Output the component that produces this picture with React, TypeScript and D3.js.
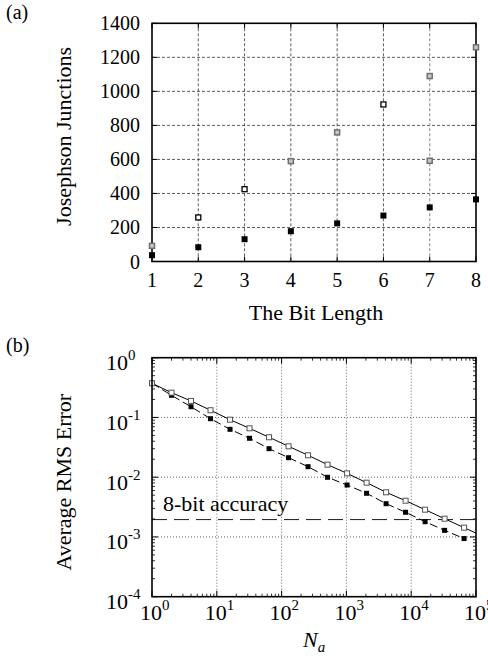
import React from 'react';
import * as d3 from 'd3';

// ---------- Data: panel (a) ----------
const bitLengths = [1, 2, 3, 4, 5, 6, 7, 8];
const jjFilled = [37, 84, 131, 178, 224, 270, 318, 365];
const jjOpenBits = [2, 3, 6];
const jjOpen = [259, 425, 923];
const jjGrayBits = [1, 4, 5, 7, 7, 8];
const jjGray = [92, 590, 759, 1090, 592, 1259];
const topYTicks = [0, 200, 400, 600, 800, 1000, 1200, 1400];

// ---------- Data: panel (b) ----------
const naValues = [1, 2, 4, 8, 16, 32, 64, 128, 256, 512, 1024, 2048, 4096, 8192, 16384, 32768, 65536];
const rmsOpen = [0.373, 0.26, 0.189, 0.132, 0.0917, 0.0658, 0.0466, 0.0329, 0.0233, 0.0162, 0.0116, 0.0081, 0.00559, 0.00404, 0.00286, 0.00202, 0.00143];
const rmsFilled = [0.373, 0.235, 0.151, 0.0953, 0.0633, 0.0448, 0.03, 0.0212, 0.015, 0.00996, 0.0074, 0.00538, 0.0036, 0.00259, 0.0018, 0.00129, 0.00094];
const eightBitLevel = 1 / 512;
const xExps = [0, 1, 2, 3, 4, 5];
const yExps = [-4, -3, -2, -1, 0];

const FONT = '"Liberation Serif", "Times New Roman", serif';

export default function App() {
  // panel (a) geometry
  const aL = 152, aR = 476, aT = 23.3, aB = 261.5;
  const xa = d3.scaleLinear().domain([1, 8]).range([aL, aR]);
  const ya = d3.scaleLinear().domain([0, 1400]).range([aB, aT]);

  // panel (b) geometry
  const bL = 152, bR = 476, bT = 357.7, bB = 596.7;
  const xb = d3.scaleLog().domain([1, 1e5]).range([bL, bR]);
  const yb = d3.scaleLog().domain([1e-4, 1]).range([bB, bT]);

  const last = naValues.length - 1;
  const slopeOpen = Math.log(rmsOpen[last] / rmsOpen[last - 1]) / Math.log(naValues[last] / naValues[last - 1]);
  const openExt = rmsOpen[last] * Math.pow(1e5 / naValues[last], slopeOpen);
  const solidPts: [number, number][] = naValues.map((n, i) => [n, rmsOpen[i]] as [number, number]).concat([[1e5, openExt]]);
  const dashedPts: [number, number][] = naValues.map((n, i) => [n, rmsFilled[i]] as [number, number]);
  const lineB = d3.line<[number, number]>().x(d => xb(d[0])).y(d => yb(d[1]));

  const minorX: number[] = [];
  for (let e = 0; e < 5; e++) for (let k = 2; k <= 9; k++) minorX.push(k * Math.pow(10, e));
  const minorY: number[] = [];
  for (let e = -4; e < 0; e++) for (let k = 2; k <= 9; k++) minorY.push(k * Math.pow(10, e));

  const ms = 6;
  const msb = 5;

  return (
    <svg width={488} height={663} style={{ position: 'absolute', left: 0, top: 0, background: '#fff' }} fontFamily={FONT}>
      <rect x={0} y={0} width={488} height={663} fill="#fff" />
      {/* ================= Panel (a) ================= */}
      <text x={6} y={19} fontSize={20}>(a)</text>
      {/* grid */}
      {topYTicks.slice(1, -1).map(t => (
        <line key={'ga' + t} x1={aL} x2={aR} y1={ya(t)} y2={ya(t)} stroke="#333" strokeWidth={0.8} strokeDasharray="3,2" />
      ))}
      {bitLengths.slice(1, -1).map(b => (
        <line key={'gv' + b} x1={xa(b)} x2={xa(b)} y1={aT} y2={aB} stroke={b === 7 ? '#999' : '#333'} strokeWidth={b === 7 ? 1.2 : 0.8} strokeDasharray="3,2" />
      ))}
      {/* ticks */}
      {topYTicks.map(t => (
        <g key={'ta' + t}>
          <line x1={aL} x2={aL + 5} y1={ya(t)} y2={ya(t)} stroke="#000" strokeWidth={1} />
          <line x1={aR} x2={aR - 5} y1={ya(t)} y2={ya(t)} stroke="#000" strokeWidth={1} />
          <text x={140} y={ya(t) + 7} fontSize={20} textAnchor="end">{t}</text>
        </g>
      ))}
      {bitLengths.map(b => (
        <g key={'tb' + b}>
          <line x1={xa(b)} x2={xa(b)} y1={aT} y2={aT + 5} stroke="#000" strokeWidth={1} />
          <line x1={xa(b)} x2={xa(b)} y1={aB} y2={aB - 5} stroke="#000" strokeWidth={1} />
          <text x={xa(b)} y={287} fontSize={20} textAnchor="middle">{b}</text>
        </g>
      ))}
      {/* frame */}
      <rect x={aL} y={aT} width={aR - aL} height={aB - aT} fill="none" stroke="#000" strokeWidth={1.6} />
      {/* markers */}
      {bitLengths.map((b, i) => (
        <rect key={'mf' + b} x={xa(b) - ms / 2} y={ya(jjFilled[i]) - ms / 2} width={ms} height={ms} fill="#000" />
      ))}
      {jjOpenBits.map((b, i) => (
        <rect key={'mo' + i} x={xa(b) - ms / 2 + 0.5} y={ya(jjOpen[i]) - ms / 2 + 0.5} width={ms - 1} height={ms - 1} fill="#fff" stroke="#000" strokeWidth={1.3} />
      ))}
      {jjGrayBits.map((b, i) => (
        <rect key={'mg' + i} x={xa(b) - ms / 2 + 0.5} y={ya(jjGray[i]) - ms / 2 + 0.5} width={ms - 1} height={ms - 1} fill="#c8c8c8" stroke="#707070" strokeWidth={1.5} />
      ))}
      {/* labels */}
      <text x={316} y={320} fontSize={22} textAnchor="middle">The Bit Length</text>
      <text transform={`translate(71,${(aT + aB) / 2 - 6}) rotate(-90)`} fontSize={22} textAnchor="middle">Josephson Junctions</text>

      {/* ================= Panel (b) ================= */}
      <text x={6} y={352} fontSize={20}>(b)</text>
      {/* grid */}
      {yExps.slice(1, -1).map(e => (
        <line key={'gby' + e} x1={bL} x2={bR} y1={yb(Math.pow(10, e))} y2={yb(Math.pow(10, e))} stroke="#444" strokeWidth={0.8} strokeDasharray="1,2" />
      ))}
      {xExps.slice(1, -1).map(e => (
        <line key={'gbx' + e} x1={xb(Math.pow(10, e))} x2={xb(Math.pow(10, e))} y1={bT} y2={bB} stroke="#444" strokeWidth={0.8} strokeDasharray="1,2" />
      ))}
      {/* minor ticks */}
      {minorX.map(v => (
        <g key={'mx' + v}>
          <line x1={xb(v)} x2={xb(v)} y1={bB} y2={bB - 3} stroke="#000" strokeWidth={0.8} />
          <line x1={xb(v)} x2={xb(v)} y1={bT} y2={bT + 3} stroke="#000" strokeWidth={0.8} />
        </g>
      ))}
      {minorY.map(v => (
        <g key={'my' + v}>
          <line x1={bL} x2={bL + 3} y1={yb(v)} y2={yb(v)} stroke="#000" strokeWidth={0.8} />
          <line x1={bR} x2={bR - 3} y1={yb(v)} y2={yb(v)} stroke="#000" strokeWidth={0.8} />
        </g>
      ))}
      {/* major ticks + labels */}
      {xExps.map(e => {
        const x = xb(Math.pow(10, e));
        return (
          <g key={'bx' + e}>
            <line x1={x} x2={x} y1={bB} y2={bB - 6} stroke="#000" strokeWidth={1} />
            <line x1={x} x2={x} y1={bT} y2={bT + 6} stroke="#000" strokeWidth={1} />
            <text x={x - 12} y={620} fontSize={22}>10<tspan dy={-10} fontSize={15}>{e}</tspan></text>
          </g>
        );
      })}
      {yExps.map(e => {
        const y = yb(Math.pow(10, e));
        return (
          <g key={'by' + e}>
            <line x1={bL} x2={bL + 6} y1={y} y2={y} stroke="#000" strokeWidth={1} />
            <line x1={bR} x2={bR - 6} y1={y} y2={y} stroke="#000" strokeWidth={1} />
            <text x={106} y={y + 12.5} fontSize={22}>10<tspan dy={-10} fontSize={15}>{e}</tspan></text>
          </g>
        );
      })}
      {/* 8-bit accuracy */}
      <line x1={bL} x2={bR} y1={yb(eightBitLevel)} y2={yb(eightBitLevel)} stroke="#000" strokeWidth={0.9} strokeDasharray="15,7" />
      <text x={163} y={511} fontSize={22}>8-bit accuracy</text>
      {/* lines */}
      <path d={lineB(solidPts) || ''} fill="none" stroke="#000" strokeWidth={1} />
      <path d={lineB(dashedPts) || ''} fill="none" stroke="#000" strokeWidth={1} strokeDasharray="8,4" />
      {/* markers */}
      {naValues.map((n, i) => (
        <rect key={'bf' + n} x={xb(n) - msb / 2} y={yb(rmsFilled[i]) - msb / 2} width={msb} height={msb} fill="#000" />
      ))}
      {naValues.map((n, i) => (
        <rect key={'bo' + n} x={xb(n) - msb / 2} y={yb(rmsOpen[i]) - msb / 2} width={msb} height={msb} fill="#fff" stroke="#555" strokeWidth={1} />
      ))}
      {/* frame */}
      <rect x={bL} y={bT} width={bR - bL} height={bB - bT} fill="none" stroke="#000" strokeWidth={1.6} />
      {/* axis labels */}
      <text transform={`translate(71,${(bT + bB) / 2 + 5}) rotate(-90)`} fontSize={22} textAnchor="middle">Average RMS Error</text>
      <text x={303} y={647} fontSize={22} fontStyle="italic">N<tspan dy={5} fontSize={15}>a</tspan></text>
    </svg>
  );
}
